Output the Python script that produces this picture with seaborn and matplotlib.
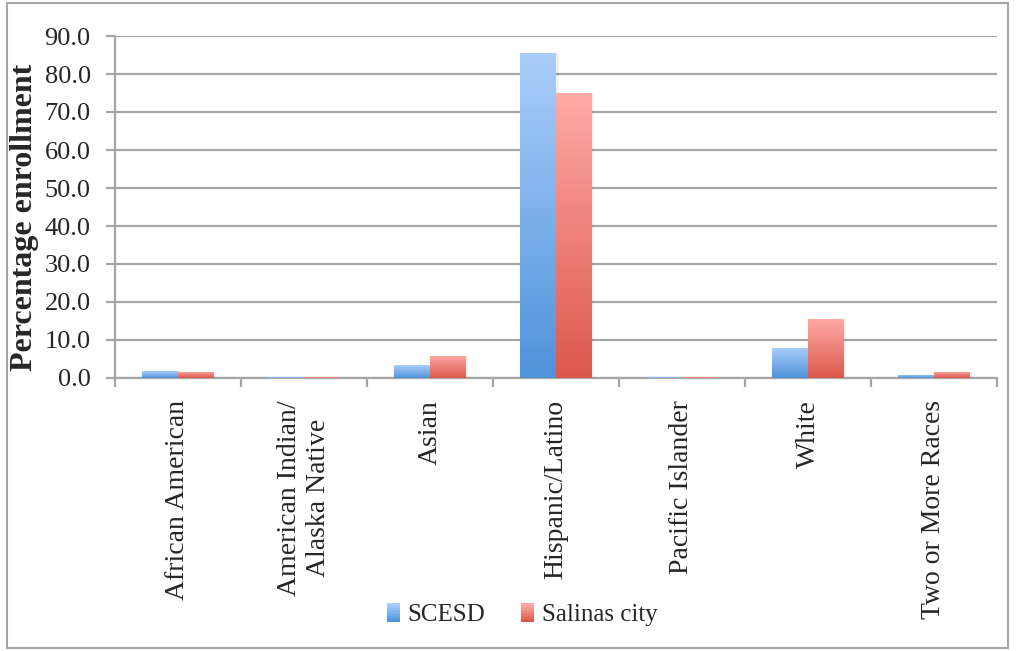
import numpy as np
import pandas as pd
import matplotlib
matplotlib.use("Agg")
import matplotlib.pyplot as plt
import seaborn as sns
from matplotlib.colors import LinearSegmentedColormap
from matplotlib.patches import Rectangle
from matplotlib.legend_handler import HandlerBase

categories = ["African American", "American Indian/\nAlaska Native", "Asian",
              "Hispanic/Latino", "Pacific Islander", "White", "Two or More Races"]
scesd = [1.8, 0.2, 3.4, 85.6, 0.2, 7.9, 0.8]
salinas = [1.6, 0.2, 5.8, 75.0, 0.2, 15.5, 1.6]
series_names = ["SCESD", "Salinas city"]
y_ticks = [0, 10, 20, 30, 40, 50, 60, 70, 80, 90]

df = pd.DataFrame({
    "category": categories * 2,
    "value": scesd + salinas,
    "series": [series_names[0]] * len(categories) + [series_names[1]] * len(categories),
})

sns.set_theme(style="white")
plt.rcParams["font.family"] = ["Liberation Serif", "DejaVu Serif"]

fig = plt.figure(figsize=(10.16, 6.51), dpi=100)
ax = fig.add_axes([115 / 1016, 1 - 378 / 651, (997 - 115) / 1016, (378 - 36) / 651])

palette = {"SCESD": "#7aaeea", "Salinas city": "#ef8a82"}
sns.barplot(data=df, x="category", y="value", hue="series", order=categories,
            hue_order=series_names, palette=palette, width=0.57, gap=0,
            saturation=1, ax=ax, legend=False, errorbar=None)

grads = {
    "SCESD": LinearSegmentedColormap.from_list("b", ["#4f93da", "#abcefb"]),
    "Salinas city": LinearSegmentedColormap.from_list("r", ["#dc584c", "#ffaaa6"]),
}
grad = np.linspace(0, 1, 256).reshape(-1, 1)
for container, name in zip(ax.containers, series_names):
    for bar in container:
        x0, y0 = bar.get_x(), bar.get_y()
        w, h = bar.get_width(), bar.get_height()
        bar.set_facecolor("none")
        bar.set_edgecolor("none")
        im = ax.imshow(grad, cmap=grads[name], origin="lower", aspect="auto",
                       extent=[x0, x0 + w, y0, y0 + h], zorder=3)
        im.set_clip_path(bar)
        # soft drop shadow on the right edge
        ax.add_patch(Rectangle((x0 + w, y0), 0.02, h, facecolor="#000000",
                               alpha=0.06, edgecolor="none", zorder=2.5))

ax.set_xlim(-0.5, len(categories) - 0.5)
ax.set_ylim(0, 90)
ax.set_yticks(y_ticks)
ax.set_yticklabels([f"{v:.1f}" for v in y_ticks], fontsize=19)
ax.yaxis.grid(True, color="#a6a6a6", linewidth=1.6)
ax.set_axisbelow(True)

# category boundary ticks
ax.set_xticks(np.arange(-0.5, len(categories), 1.0))
ax.set_xticklabels([])
ax.tick_params(axis="x", direction="out", length=6.5, width=1.6, color="#a6a6a6", bottom=True)
ax.tick_params(axis="y", direction="out", length=6.5, width=1.6, color="#a6a6a6", left=True, pad=11)
for i, cat in enumerate(categories):
    ax.text(i, -0.065, cat, transform=ax.get_xaxis_transform(), rotation=90,
            ha="center", va="top", multialignment="center", fontsize=20)

for side in ["top", "right"]:
    ax.spines[side].set_visible(False)
for side in ["left", "bottom"]:
    ax.spines[side].set_color("#a6a6a6")
    ax.spines[side].set_linewidth(1.6)

ax.set_xlabel("")
ax.set_ylabel("Percentage enrollment", fontsize=23, fontweight="bold")
ax.yaxis.set_label_coords(-0.086, 0.47)


class GradientSquare(HandlerBase):
    def __init__(self, cmap):
        super().__init__()
        self.cmap = cmap

    def create_artists(self, legend, orig_handle, xdescent, ydescent,
                       width, height, fontsize, trans):
        n = 12
        artists = []
        for k in range(n):
            artists.append(Rectangle((-xdescent, -ydescent + height * k / n), width,
                                     height / n + 0.3, facecolor=self.cmap(k / (n - 1)),
                                     edgecolor="none", transform=trans))
        return artists


handles = [Rectangle((0, 0), 1, 1, facecolor=palette[n]) for n in series_names]
fig.legend(handles, series_names, loc="center", bbox_to_anchor=(522 / 1016, 1 - 615 / 651),
           ncol=2, frameon=False, fontsize=18, handlelength=0.55, handleheight=0.75,
           handletextpad=0.3, columnspacing=1.4,
           handler_map={handles[0]: GradientSquare(grads["SCESD"]),
                        handles[1]: GradientSquare(grads["Salinas city"])})

fig.add_artist(Rectangle((7 / 1016, 1 - 648 / 651), 1001 / 1016, 645 / 651,
                         transform=fig.transFigure, fill=False,
                         edgecolor="#a6a6a6", linewidth=1.5))

fig.savefig("out.png", dpi=100)
